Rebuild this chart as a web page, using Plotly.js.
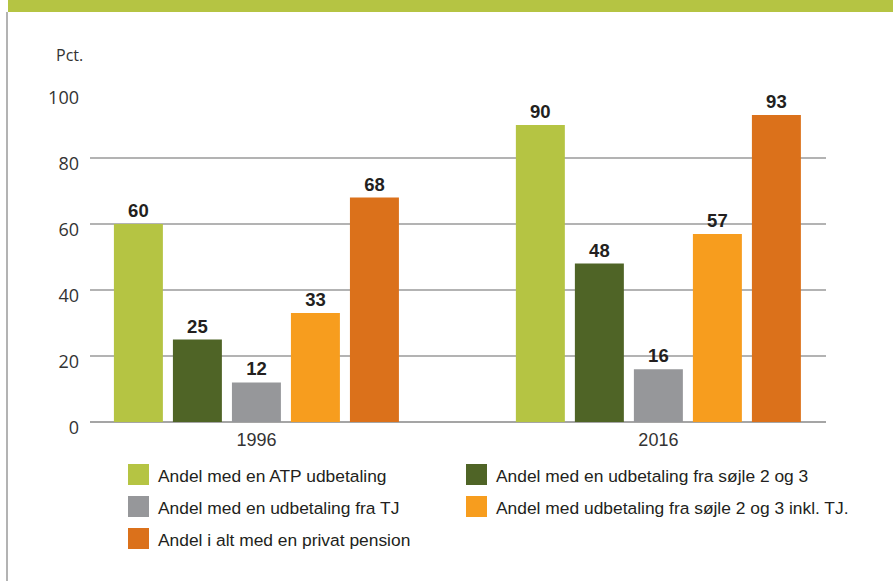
<!DOCTYPE html>
<html>
<head>
<meta charset="utf-8">
<script src="https://cdn.plot.ly/plotly-3.0.1.min.js"></script>
<style>html,body{margin:0;padding:0;background:#fff;}#chart{width:893px;height:581px;}</style>
</head>
<body>
<div id="chart"></div>
<script>
// ---- data ----
const categories = ["1996", "2016"];
const seriesNames = [
  "Andel med en ATP udbetaling",
  "Andel med en udbetaling fra søjle 2 og 3",
  "Andel med en udbetaling fra TJ",
  "Andel med udbetaling fra søjle 2 og 3 inkl. TJ.",
  "Andel i alt med en privat pension"
];
const atp = [60, 90];
const saejle23 = [25, 48];
const tj = [12, 16];
const saejle23InklTJ = [33, 57];
const privatPension = [68, 93];
const yTickVals = [0, 20, 40, 60, 80, 100];
const yTickText = ["0", "20", "40", "60", "80", "100"];
const yUnitLabel = "Pct.";

// ---- styling ----
const colors = ["#b5c443", "#4f6426", "#96979a", "#f79d1e", "#db711b"];
const seriesValues = [atp, saejle23, tj, saejle23InklTJ, privatPension];

const W = 893, H = 581;
const M = {l: 90, r: 67, t: 92, b: 159};
const PW = W - M.l - M.r, PH = H - M.t - M.b;
const px = x => (x - M.l) / PW;
const py = y => (H - M.b - y) / PH;

const traces = seriesValues.map((vals, i) => ({
  type: "bar",
  name: seriesNames[i],
  x: categories,
  y: vals,
  marker: {color: colors[i]},
  text: vals.map(String),
  textposition: "outside",
  textfont: {family: "Liberation Sans, Arial, sans-serif", size: 18.5, color: "#231f20", weight: 700},
  cliponaxis: false,
  hoverinfo: "skip",
  showlegend: false
}));

const shapes = [
  // top band
  {type: "rect", xref: "paper", yref: "paper", x0: px(8), x1: px(W + 5), y0: py(12), y1: py(-5),
   fillcolor: "#b5c443", line: {width: 0}, layer: "below"},
  // left border
  {type: "line", xref: "paper", yref: "paper", x0: px(7), x1: px(7), y0: py(12), y1: py(H + 5),
   line: {color: "#9a9a9a", width: 1.5}}
];
const annotations = [
  {xref: "paper", yref: "paper", x: px(54), y: py(55), xanchor: "left", yanchor: "middle",
   text: yUnitLabel, showarrow: false, font: {family: "Open Sans, sans-serif", size: 16, color: "#333"}}
];

// legend (two columns, row-major)
const colX = [128, 466];
const rowY = [464, 496, 528];
const sw = 21;
seriesNames.forEach((name, i) => {
  const cx = colX[i % 2], ry = rowY[Math.floor(i / 2)];
  shapes.push({type: "rect", xref: "paper", yref: "paper",
    x0: px(cx), x1: px(cx + sw), y0: py(ry + sw), y1: py(ry),
    fillcolor: colors[i], line: {width: 0}});
  annotations.push({xref: "paper", yref: "paper", x: px(cx + sw + 7), y: py(ry + sw / 2 + 1),
    xanchor: "left", yanchor: "middle", text: name, showarrow: false,
    font: {family: "Liberation Sans, Arial, sans-serif", size: 17.4, color: "#231f20"}});
});

const layout = {
  width: W, height: H,
  margin: M,
  paper_bgcolor: "#ffffff",
  plot_bgcolor: "#ffffff",
  barmode: "group",
  bargap: 0.266,
  bargroupgap: 0.17,
  showlegend: false,
  xaxis: {
    type: "category",
    range: [-0.414, 1.417],
    showgrid: false, zeroline: false, showline: false, ticks: "",
    tickfont: {family: "Liberation Sans, Arial, sans-serif", size: 18, color: "#333"},
    ticklabelstandoff: 5
  },
  yaxis: {
    range: [0, 100],
    tickvals: yTickVals, ticktext: yTickText,
    showgrid: true, gridcolor: "#b3b3b3", gridwidth: 1.5,
    zeroline: true, zerolinecolor: "#a5a5a5", zerolinewidth: 2.5,
    showline: false, ticks: "",
    tickfont: {family: "Open Sans, sans-serif", size: 18, color: "#333"},
    ticklabelstandoff: 10,
    ticklabelshift: 6
  },
  shapes: shapes,
  annotations: annotations,
  font: {family: "Liberation Sans, Arial, sans-serif"}
};

Plotly.newPlot("chart", traces, layout, {displayModeBar: false, staticPlot: true});
</script>
</body>
</html>
